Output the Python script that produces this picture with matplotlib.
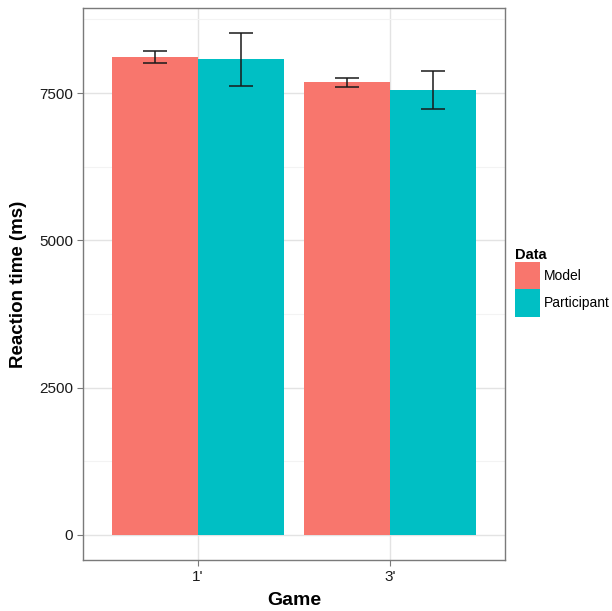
import matplotlib
matplotlib.use("Agg")
import matplotlib.pyplot as plt
import numpy as np
from matplotlib.patches import Patch

plt.rcParams['font.family'] = ['Liberation Sans', 'DejaVu Sans']

games = ["1'", "3'"]
series = ["Model", "Participant"]
means = {"Model": [8115, 7680], "Participant": [8070, 7555]}
errs = {"Model": [100, 70], "Participant": [447, 323]}
colors = {"Model": "#F8766D", "Participant": "#00BFC4"}

fig = plt.figure(figsize=(6.12, 6.11), dpi=100)
ax = fig.add_axes([83/612, 51/611, 422/612, 552/611])

x = np.arange(1, len(games) + 1)
w = 0.45
for i, s in enumerate(series):
    xs = x + (i - 0.5) * w
    ax.bar(xs, means[s], width=w, color=colors[s], zorder=2)
    ax.errorbar(xs, means[s], yerr=errs[s], fmt='none', ecolor='#1a1a1a',
                elinewidth=1.1, capsize=8.6, capthick=1.1, zorder=3)

top = max(max(np.array(means[s]) + np.array(errs[s])) for s in series)
ax.set_xlim(0.4, 2.6)
ax.set_ylim(-0.05 * top, 1.05 * top)
ax.set_xticks(x)
ax.set_xticklabels(games)
ax.set_yticks([0, 2500, 5000, 7500])
ax.set_yticks([1250, 3750, 6250, 8750], minor=True)
ax.grid(True, which='major', color='#e3e3e3', linewidth=1.0, zorder=0)
ax.grid(True, which='minor', axis='y', color='#f3f3f3', linewidth=0.8, zorder=0)
ax.set_axisbelow(True)
for sp in ax.spines.values():
    sp.set_color('#7a7a7a')
    sp.set_linewidth(1.0)
ax.tick_params(axis='both', which='major', length=4, color='#7a7a7a',
               labelsize=11, labelcolor='#1a1a1a', pad=3)
ax.tick_params(axis='y', which='minor', length=0)
ax.set_xlabel("Game", fontsize=14, fontweight='bold', labelpad=6)
ax.set_ylabel("Reaction time (ms)", fontsize=13.5, fontweight='bold', labelpad=9)

handles = [Patch(facecolor=colors[s], edgecolor='none', label=s) for s in series]
fs = 10
leg = fig.legend(handles=handles, title="Data", loc='upper left',
                 bbox_to_anchor=(515/612, 1 - 248/611), frameon=False,
                 fontsize=fs, title_fontproperties={'weight': 'bold', 'size': 10.5},
                 handlelength=1.8, handleheight=2.65, handletextpad=0.28,
                 labelspacing=0.0, borderaxespad=0, borderpad=0)
leg._legend_box.align = "left"

fig.savefig("out.png", dpi=100)
